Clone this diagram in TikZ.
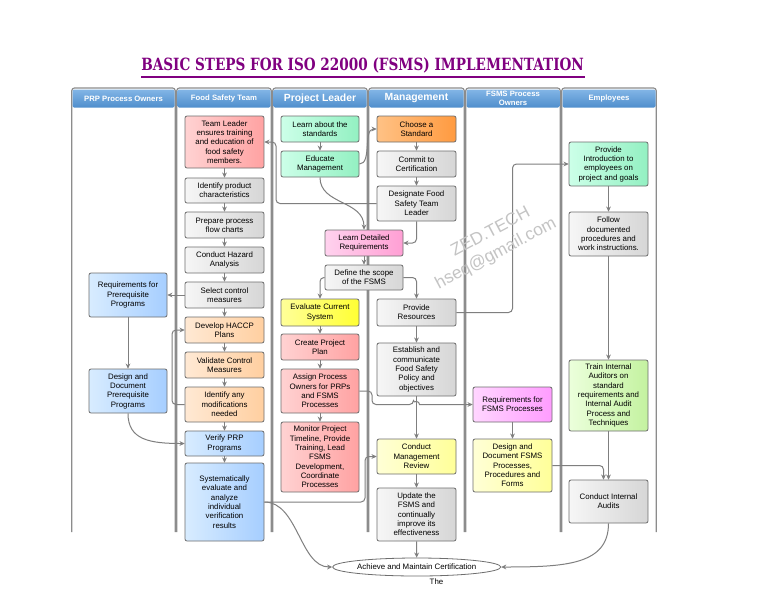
\documentclass[tikz,border=0pt]{standalone}
\usepackage{graphicx}
\usepackage{fontspec}
\setmainfont{Liberation Sans}
\newfontfamily\titlefont{DejaVu Serif}
\usetikzlibrary{arrows.meta,shapes.geometric,calc}
\definecolor{boxline}{HTML}{6E6E6E}
\definecolor{lncol}{HTML}{7F7F7F}
\definecolor{lanecol}{HTML}{8C8C8C}
\definecolor{hdrT}{HTML}{82B5E6}
\definecolor{hdrB}{HTML}{4F8ECC}
\definecolor{titlecol}{HTML}{800080}
\definecolor{wmcol}{HTML}{C4C4C4}
\definecolor{grayL}{HTML}{F6F6F6}\definecolor{grayR}{HTML}{D6D6D6}
\definecolor{redL}{HTML}{FFD2D2}\definecolor{redR}{HTML}{FFA2A2}
\definecolor{mintL}{HTML}{CCFFE8}\definecolor{mintR}{HTML}{93F0C2}
\definecolor{orgL}{HTML}{FFC285}\definecolor{orgR}{HTML}{FF9A40}
\definecolor{peaL}{HTML}{FFE9D4}\definecolor{peaR}{HTML}{FFCFA0}
\definecolor{bluL}{HTML}{D8ECFF}\definecolor{bluR}{HTML}{A6CEFF}
\definecolor{pnkL}{HTML}{FFD2EE}\definecolor{pnkR}{HTML}{FF9FD4}
\definecolor{yelL}{HTML}{FFFF99}\definecolor{yelR}{HTML}{FFFF33}
\definecolor{pylL}{HTML}{FFFFD6}\definecolor{pylR}{HTML}{FFFF99}
\definecolor{magL}{HTML}{FFD6FF}\definecolor{magR}{HTML}{FF9CFF}
\definecolor{grnL}{HTML}{EBFFDB}\definecolor{grnR}{HTML}{C4F2A0}
\newcommand\mkbox[7]{%
  \pgfmathsetmacro\mkbw{(#4-#2)*0.75}%
  \pgfmathsetmacro\mkbh{(#5-#3)*0.75}%
  \pgfmathsetmacro\mkcx{(#2+#4)/2}%
  \pgfmathsetmacro\mkcy{(#3+#5)/2}%
  \node[bx,#6,minimum width=\mkbw pt,minimum height=\mkbh pt] (#1) at (\mkcx,\mkcy) {#7};%
}
\begin{document}
\begin{tikzpicture}[x=0.75pt,y=-0.75pt,
  bx/.style={draw=boxline, rounded corners=1.5pt, line width=0.6pt, align=center, inner sep=0pt,
    font=\fontsize{5.9}{7}\selectfont, text=black},
  fgray/.style={left color=grayL, right color=grayR},
  fred/.style={left color=redL, right color=redR},
  fmint/.style={left color=mintL, right color=mintR},
  forange/.style={left color=orgL, right color=orgR},
  fpeach/.style={left color=peaL, right color=peaR},
  fblue/.style={left color=bluL, right color=bluR},
  fpink/.style={left color=pnkL, right color=pnkR},
  fyel/.style={left color=yelL, right color=yelR},
  fpyel/.style={left color=pylL, right color=pylR},
  fmag/.style={left color=magL, right color=magR},
  fgreen/.style={left color=grnL, right color=grnR},
  hdr/.style={draw=none, top color=hdrT, bottom color=hdrB, text=white, rounded corners=1pt,
    font=\bfseries\fontsize{5.8}{7}\selectfont},
  hdrbig/.style={hdr, font=\bfseries\fontsize{7.8}{9}\selectfont},
  lane/.style={draw=lanecol, line width=0.9pt, rounded corners=2pt},
  conn/.style={draw=lncol, line width=0.75pt, rounded corners=3pt, -{Stealth[length=3.8pt,width=3.6pt]}},
  wm/.style={text=wmcol, font=\fontsize{13}{15}\selectfont, inner sep=0pt, rotate=28}
]
\fill[white] (0,0) rectangle (768,594);
\useasboundingbox (0,0) rectangle (768,594);

% lanes
\foreach \l/\r in {71/176,176/272,272/368,368/465,465/561,561/657}{
  \draw[lane] (\l+0.8,532) -- (\l+0.8,88) -- (\r-0.8,88) -- (\r-0.8,532);
}
% headers
\mkbox{h1}{72.5}{89.5}{174.5}{107.5}{hdr}{PRP Process Owners}
\mkbox{h2}{177.5}{89.5}{270.5}{107.5}{hdr}{Food Safety Team}
\mkbox{h3}{273.5}{89.5}{366.5}{107.5}{hdrbig}{Project Leader}
\mkbox{h4}{369.5}{89.5}{463.5}{107.5}{hdrbig}{Management}
\mkbox{h5}{466.5}{89.5}{559.5}{107.5}{hdr}{FSMS Process\\Owners}
\mkbox{h6}{562.5}{89.5}{655.5}{107.5}{hdr}{Employees}

% Food Safety Team
\mkbox{tl}{185}{116}{264}{168}{fred}{Team Leader\\ensures training\\and education of\\food safety\\members.}
\mkbox{idp}{185}{178}{264}{203}{fgray}{Identify product\\characteristics}
\mkbox{ppf}{185}{212}{264}{238}{fgray}{Prepare process\\flow charts}
\mkbox{cha}{185}{247}{264}{273}{fgray}{Conduct Hazard\\Analysis}
\mkbox{scm}{185}{282}{264}{308}{fgray}{Select control\\measures}
\mkbox{hac}{185}{317}{264}{343}{fpeach}{Develop HACCP\\Plans}
\mkbox{vcm}{185}{352}{264}{378}{fpeach}{Validate Control\\Measures}
\mkbox{iam}{185}{387}{264}{422}{fpeach}{Identify any\\modifications\\needed}
\mkbox{vpp}{185}{431}{264}{456}{fblue}{Verify PRP\\Programs}
\mkbox{sys}{185}{463}{264}{541}{fblue}{Systematically\\evaluate and\\analyze\\individual\\verification\\results}
% PRP
\mkbox{rpp}{89}{273}{167}{317}{fblue}{Requirements for\\Prerequisite\\Programs}
\mkbox{ddp}{89}{369}{167}{413}{fblue}{Design and\\Document\\Prerequisite\\Programs}
% Project Leader
\mkbox{las}{281}{116}{359}{142}{fmint}{Learn about the\\standards}
\mkbox{edu}{281}{151}{359}{177}{fmint}{Educate\\Management}
\mkbox{ldr}{325}{230}{403}{256}{fpink}{Learn Detailed\\Requirements}
\mkbox{dsc}{325}{265}{403}{290}{fgray}{Define the scope\\of the FSMS}
\mkbox{ecs}{281}{299}{359}{326}{fyel}{Evaluate Current\\System}
\mkbox{cpp}{281}{334}{359}{360}{fred}{Create Project\\Plan}
\mkbox{apo}{281}{369}{359}{413}{fred}{Assign Process\\Owners for PRPs\\and FSMS\\Processes}
\mkbox{mpt}{281}{422}{359}{492}{fred}{Monitor Project\\Timeline, Provide\\Training, Lead\\FSMS\\Development,\\Coordinate\\Processes}
% Management
\mkbox{cas}{377}{116}{456}{142}{forange}{Choose a\\Standard}
\mkbox{cmc}{377}{151}{456}{177}{fgray}{Commit to\\Certification}
\mkbox{dfs}{377}{186}{456}{221}{fgray}{Designate Food\\Safety Team\\Leader}
\mkbox{prs}{377}{299}{456}{326}{fgray}{Provide\\Resources}
\mkbox{ecp}{377}{343}{456}{396}{fgray}{Establish and\\communicate\\Food Safety\\Policy and\\objectives}
\mkbox{cmr}{377}{439}{456}{474}{fpyel}{Conduct\\Management\\Review}
\mkbox{upd}{377}{488}{456}{541}{fgray}{Update the\\FSMS and\\continually\\improve its\\effectiveness}
% FSMS Process Owners
\mkbox{rfp}{473}{387}{552}{422}{fmag}{Requirements for\\FSMS Processes}
\mkbox{dfp}{473}{439}{552}{492}{fpyel}{Design and\\Document FSMS\\Processes,\\Procedures and\\Forms}
% Employees
\mkbox{pie}{569}{142}{648}{186}{fmint}{Provide\\Introduction to\\employees on\\project and goals}
\mkbox{fdp}{569}{212}{648}{256}{fgray}{Follow\\documented\\procedures and\\work instructions.}
\mkbox{tia}{569}{360}{648}{431}{fgreen}{Train Internal\\Auditors on\\standard\\requirements and\\Internal Audit\\Process and\\Techniques}
\mkbox{cia}{569}{480}{648}{523}{fgray}{Conduct Internal\\Audits}

\node[ellipse, draw=boxline, line width=0.6pt, fill=white, inner sep=0pt, minimum width=124.5pt,
  minimum height=13.5pt, font=\fontsize{5.9}{7}\selectfont] (ach) at (416.7,567) {Achieve and Maintain Certification};
\node[font=\fontsize{5.9}{7}\selectfont, inner sep=0pt] (the) at (436.5,581.5) {The};

% connectors
\draw[conn] (tl.south) -- (idp.north);
\draw[conn] (idp.south) -- (ppf.north);
\draw[conn] (ppf.south) -- (cha.north);
\draw[conn] (cha.south) -- (scm.north);
\draw[conn] (scm.south) -- (hac.north);
\draw[conn] (hac.south) -- (vcm.north);
\draw[conn] (vcm.south) -- (iam.north);
\draw[conn] (iam.south) -- (vpp.north);
\draw[conn] (vpp.south) -- (sys.north);
\draw[conn] (scm.west) -- (rpp.east);
\draw[conn] (rpp.south) -- (ddp.north);
\draw[conn] (ddp.south) .. controls (128,440) and (150,443.5) .. (vpp.west);
\draw[conn] (iam.west) -- (172,404.5) |- (hac.west);
\draw[conn] (dfs.west) -| (276,142) -- (tl.east);
\draw[conn] (las.south) -- (edu.north);
\draw[conn] (edu.east) .. controls (372,164) and (363,129) .. (cas.west);
\draw[conn] (edu.south) .. controls (320,205) and (364,200) .. (ldr.north);
\draw[conn] (cas.south) -- (cmc.north);
\draw[conn] (cmc.south) -- (dfs.north);
\draw[conn] (dfs.south) |- (ldr.east);
\draw[conn] (ldr.south) -- (dsc.north);
\draw[conn] (dsc.west) -| (ecs.north);
\draw[conn] (dsc.east) -| (prs.north);
\draw[conn] (ecs.south) -- (cpp.north);
\draw[conn] (cpp.south) -- (apo.north);
\draw[conn] (apo.south) -- (mpt.north);
\draw[conn] (prs.south) -- (ecp.north);
\draw[conn] (prs.east) -| (512.5,164) -- (pie.west);
\draw[conn] (ecp.south) -- (cmr.north);
\draw[conn] (apo.east) -- (372,391) -- (372,404.5) -- (413.5,404.5) [sharp corners]
  arc[start angle=180,end angle=360,radius=3] -- (rfp.west);
\draw[conn] (cmr.south) -- (upd.north);
\draw[conn] (upd.south) -- (ach.north);
\draw[conn] (sys.east) -- (365,502) |- (cmr.west);
\draw[conn] (sys.east) .. controls (298,502) and (300,567) .. (ach.west);
\draw[conn] (rfp.south) -- (dfp.north);
\draw[conn] (dfp.east) -| ($(cia.north)+(-5,0)$);
\draw[conn] (pie.south) -- (fdp.north);
\draw[conn] (fdp.south) -- (tia.north);
\draw[conn] (tia.south) -- (cia.north);
\draw[conn] (cia.south) .. controls (608.5,565) and (565,567) .. (ach.east);

% watermark
\node[wm] (wm1) at (490,231) {ZED.TECH};
\node[wm] (wm2) at (496,254) {hseq@gmail.com};

% title
\node[anchor=base west, inner sep=0pt, text=titlecol] (ttl) at (141,70.3)
  {\resizebox{332pt}{9.6pt}{\titlefont\bfseries BASIC STEPS FOR ISO 22000 (FSMS) IMPLEMENTATION}};
\draw[titlecol, line width=1.1pt] (141,77) -- (585,77);
\end{tikzpicture}
\end{document}
